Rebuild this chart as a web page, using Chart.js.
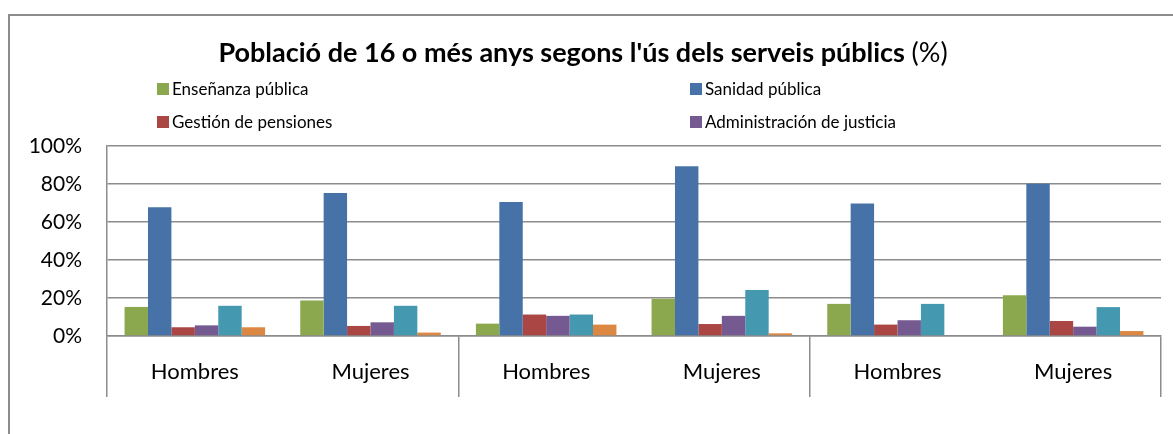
<!DOCTYPE html>
<html>
<head>
<meta charset="utf-8">
<script src="https://cdn.jsdelivr.net/npm/chart.js@4.4.1/dist/chart.umd.min.js"></script>
<style>
  html, body { margin: 0; padding: 0; background: #fff; overflow: hidden; }
  #frame { position: absolute; left: 8px; top: 14px; width: 1220px; height: 480px; border: 2px solid #8c8c8c; box-sizing: border-box; }
  #wrap { position: absolute; left: 0; top: 0; width: 1173px; height: 434px; }
</style>
</head>
<body>
<div id="frame"></div>
<div id="wrap"><canvas id="chart"></canvas></div>
<script>
const categories = ["Hombres", "Mujeres", "Hombres", "Mujeres", "Hombres", "Mujeres"];
const yTicks = [0, 20, 40, 60, 80, 100];

const seriesNames = ["Enseñanza pública", "Sanidad pública", "Gestión de pensiones", "Administración de justicia", "Serie 5", "Serie 6"];
const ensenanza = [15.3, 18.7, 6.5, 19.6, 16.9, 21.5];
const sanidad = [67.7, 75.3, 70.5, 89.4, 69.7, 80.1];
const pensiones = [4.6, 5.3, 11.3, 6.3, 6.0, 7.9];
const justicia = [5.6, 7.2, 10.6, 10.6, 8.3, 4.9];
const serie5 = [15.9, 15.9, 11.3, 24.2, 16.9, 15.2];
const serie6 = [4.6, 1.8, 6.0, 1.4, 0, 2.6];
const colors = ["#8ca84e", "#4672a8", "#aa4644", "#745a90", "#4499b1", "#dc8842"];

// only the first four series appear in the (cut) legend
const legendShown = 4;

const FONT = "Lato, 'Noto Sans', sans-serif";
const GRID = "#8c8c8c";

const values = [ensenanza, sanidad, pensiones, justicia, serie5, serie6];
const datasets = values.map((v, i) => ({
  label: seriesNames[i],
  data: v,
  backgroundColor: colors[i],
  categoryPercentage: 0.8,
  barPercentage: 1.0
}));

// title with bold + normal part, and a two column legend
const titleLegend = {
  id: "titleLegend",
  afterDraw(chart) {
    const ctx = chart.ctx;
    ctx.save();
    const bold = "Població de 16 o més anys segons l'ús dels serveis públics ";
    const normal = "(%)";
    ctx.font = "bold 27px " + FONT;
    const wb = ctx.measureText(bold).width;
    ctx.font = "27px " + FONT;
    const wn = ctx.measureText(normal).width;
    let x = 583 - (wb + wn) / 2;
    ctx.fillStyle = "#000";
    ctx.textBaseline = "middle";
    ctx.font = "bold 27px " + FONT;
    ctx.fillText(bold, x, 53);
    ctx.font = "27px " + FONT;
    ctx.fillText(normal, x + wb, 53);

    const colX = [157, 690];
    const rowY = [89, 122];
    ctx.font = "17px " + FONT;
    chart.data.datasets.slice(0, legendShown).forEach((ds, i) => {
      const bx = colX[i % 2];
      const by = rowY[Math.floor(i / 2)];
      ctx.fillStyle = ds.backgroundColor;
      ctx.fillRect(bx, by - 6, 12, 12);
      ctx.fillStyle = "#000";
      ctx.fillText(ds.label, bx + 15, by + 1);
    });
    ctx.restore();
  }
};

new Chart(document.getElementById("chart"), {
  type: "bar",
  data: { labels: categories, datasets: datasets },
  plugins: [titleLegend],
  options: {
    responsive: true,
    maintainAspectRatio: false,
    animation: false,
    layout: { padding: { left: 8, top: 146, right: 12, bottom: 0 } },
    plugins: {
      legend: { display: false },
      title: { display: false },
      tooltip: { enabled: false }
    },
    scales: {
      x: {
        afterFit(scale) { scale.height = 98; },
        grid: {
          offset: true,
          drawOnChartArea: false,
          drawTicks: true,
          tickLength: 61,
          lineWidth: 1.5,
          // separators only between the pairs
          color: (c) => (c.index === undefined || c.index % 2 === 0) ? GRID : "rgba(0,0,0,0)"
        },
        border: { display: true, color: GRID, width: 1.5 },
        ticks: { color: "#000", font: { family: FONT, size: 22 }, padding: -38, maxRotation: 0 }
      },
      y: {
        min: 0,
        max: 100,
        afterFit(scale) { scale.width = 99; },
        afterBuildTicks(scale) { scale.ticks = yTicks.map(v => ({ value: v })); },
        grid: { color: GRID, lineWidth: 1.5, drawTicks: false },
        border: { display: true, color: GRID, width: 1.5 },
        ticks: {
          color: "#000",
          padding: 25,
          font: { family: FONT, size: 21 },
          callback: (v) => v + "%"
        }
      }
    }
  }
});
</script>
</body>
</html>
